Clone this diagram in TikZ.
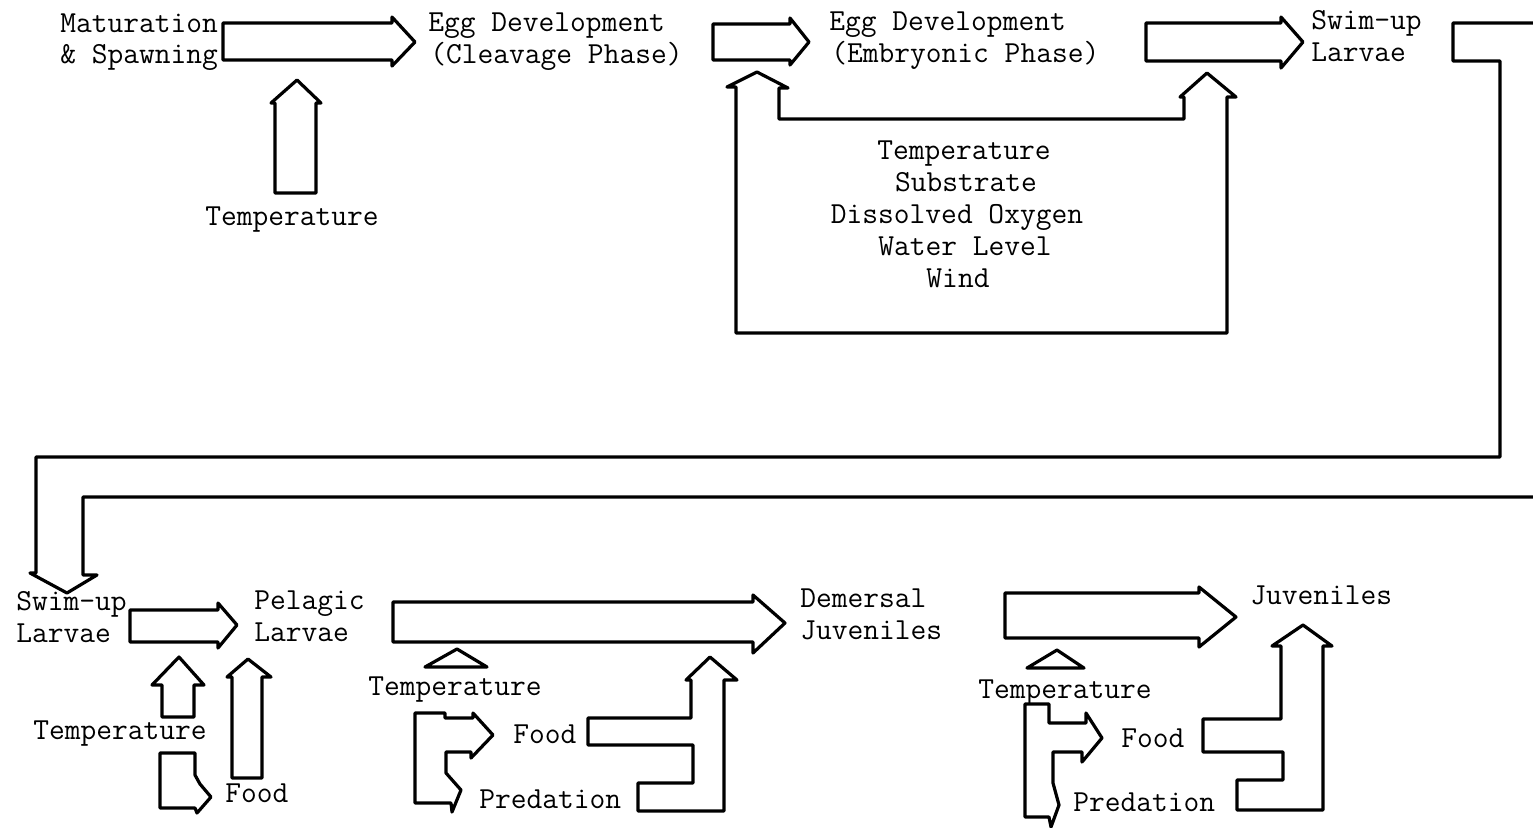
\documentclass[tikz,border=0pt]{standalone}
\usepackage{fontspec}
\newcommand{\twfont}{\ttfamily\fontsize{15.3}{17}\selectfont\addfontfeatures{FakeBold=0.6}}
\tikzset{
  lbl/.style={anchor=base west, inner sep=0pt, font=\twfont},
  clbl/.style={anchor=base, inner sep=0pt, font=\twfont},
  barrow/.style={draw=black, line width=1.6pt, line join=round}
}
\begin{document}
\begin{tikzpicture}[x=0.5pt,y=-0.5pt]
\clip (0,0) rectangle (1533,827);
\fill[white] (0,0) rectangle (1533,827);

% ---------- top row labels ----------
\node[lbl] (mat1) at (60,32) {Maturation};
\node[lbl] (mat2) at (60,63) {\&~Spawning};
\node[lbl] (egc1) at (428,31) {Egg Development};
\node[lbl] (egc2) at (430,63) {(Cleavage Phase)};
\node[lbl] (ege1) at (829,30) {Egg Development};
\node[lbl] (ege2) at (831,62) {(Embryonic Phase)};
\node[lbl] (swa1) at (1311,29) {Swim-up};
\node[lbl] (swa2) at (1311,61) {Larvae};
\node[lbl] (tmp1) at (205,225) {Temperature};
\node[clbl] (f1) at (964,159) {Temperature};
\node[clbl] (f2) at (966,191) {Substrate};
\node[clbl] (f3) at (957,223) {Dissolved Oxygen};
\node[clbl] (f4) at (965,255) {Water Level};
\node[clbl] (f5) at (958,287) {Wind};

% ---------- top row arrows ----------
\draw[barrow] (223,23) -- (392,23) -- (392,17) -- (415,42) -- (392,66) -- (392,60) -- (223,60) -- cycle;
\draw[barrow] (275,193) -- (275,103) -- (271,103) -- (297,80) -- (321,103) -- (316,103) -- (316,193) -- cycle;
\draw[barrow] (713,24) -- (790,24) -- (790,18) -- (809,42) -- (790,65) -- (790,60) -- (713,60) -- cycle;
\draw[barrow] (1146,23) -- (1281,23) -- (1281,17) -- (1303,42) -- (1281,68) -- (1281,61) -- (1146,61) -- cycle;
% U-shaped double arrow (factors)
\draw[barrow] (757,72) -- (788,88) -- (779,88) -- (779,119) -- (1184,119) -- (1184,97) -- (1180,97)
  -- (1207,73) -- (1236,97) -- (1227,97) -- (1227,333) -- (736,333) -- (736,87) -- (727,87) -- cycle;
% long connector from Swim-up Larvae (top) to Swim-up Larvae (bottom)
\draw[barrow] (1453,23) -- (1560,23) -- (1560,497) -- (83,497) -- (83,575) -- (97,575) -- (67,593)
  -- (30,573) -- (36,573) -- (36,457) -- (1500,457) -- (1500,61) -- (1453,61) -- cycle;

% ---------- bottom row labels ----------
\node[lbl] (swb1) at (16,610) {Swim-up};
\node[lbl] (swb2) at (16,642) {Larvae};
\node[lbl] (pel1) at (254,609) {Pelagic};
\node[lbl] (pel2) at (254,641) {Larvae};
\node[lbl] (dem1) at (800,607) {Demersal};
\node[lbl] (dem2) at (800,639) {Juveniles};
\node[lbl] (juv) at (1250,604) {Juveniles};
\node[lbl] (tmp2) at (33,739) {Temperature};
\node[lbl] (food2) at (225,802) {Food};
\node[lbl] (tmp3) at (368,695) {Temperature};
\node[lbl] (food3) at (513,743) {Food};
\node[lbl] (pred3) at (479,808) {Predation};
\node[lbl] (tmp4) at (978,698) {Temperature};
\node[lbl] (food4) at (1121,747) {Food};
\node[lbl] (pred4) at (1073,811) {Predation};

% ---------- bottom row arrows ----------
% Swim-up -> Pelagic
\draw[barrow] (130,610) -- (218,610) -- (218,603) -- (237,625) -- (218,648) -- (218,642) -- (130,642) -- cycle;
% temperature up
\draw[barrow] (162,717) -- (162,685) -- (152,685) -- (179,657) -- (204,685) -- (194,685) -- (194,717) -- cycle;
% food up
\draw[barrow] (232,778) -- (232,677) -- (227,677) -- (248,659) -- (271,677) -- (262,677) -- (262,778) -- cycle;
% small bent arrow
\draw[barrow] (160,753) -- (195,753) -- (195,775) -- (200,784) -- (211,797) -- (197,813) -- (195,808) -- (160,808) -- cycle;

% Pelagic -> Demersal
\draw[barrow] (393,602) -- (753,602) -- (753,595) -- (785,623) -- (753,653) -- (753,642) -- (393,642) -- cycle;
\draw[barrow] (425,667) -- (457,649) -- (487,667) -- cycle;
\draw[barrow] (415,713) -- (445,713) -- (445,718) -- (473,718) -- (473,713) -- (493,735) -- (471,758) -- (471,752)
  -- (446,752) -- (446,773) -- (461,790) -- (452,812) -- (451,803) -- (415,803) -- cycle;
\draw[barrow] (710,657) -- (737,680) -- (724,680) -- (724,811) -- (638,811) -- (638,783) -- (693,783) -- (693,745)
  -- (588,745) -- (588,718) -- (691,718) -- (691,680) -- (686,680) -- cycle;

% -> Juveniles
\draw[barrow] (1005,593) -- (1199,593) -- (1199,587) -- (1236,617) -- (1199,647) -- (1199,638) -- (1005,638) -- cycle;
\draw[barrow] (1027,668) -- (1057,650) -- (1084,668) -- cycle;
\draw[barrow] (1025,704) -- (1049,704) -- (1049,723) -- (1086,723) -- (1086,713) -- (1102,738) -- (1082,762) -- (1082,752)
  -- (1053,752) -- (1053,783) -- (1059,805) -- (1051,827) -- (1049,817) -- (1025,817) -- cycle;
\draw[barrow] (1303,625) -- (1332,646) -- (1323,646) -- (1323,810) -- (1237,810) -- (1237,780) -- (1283,780) -- (1283,752)
  -- (1203,752) -- (1203,719) -- (1281,719) -- (1281,646) -- (1272,646) -- cycle;
\end{tikzpicture}
\end{document}
